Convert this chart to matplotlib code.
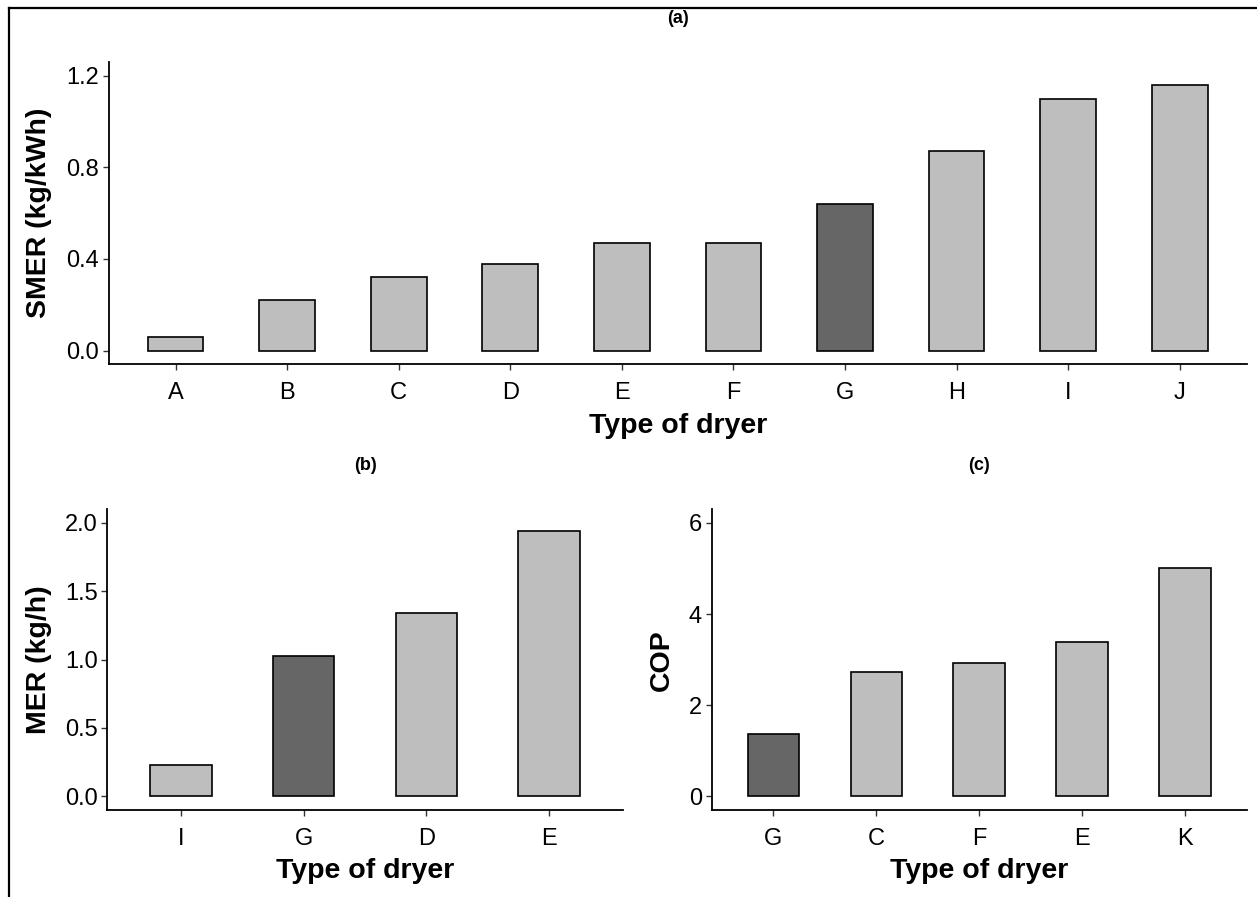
import matplotlib.pyplot as plt
from matplotlib.lines import Line2D

plt.rcParams['font.family'] = ['Liberation Sans', 'DejaVu Sans']

# данные
dryers_a = ['A', 'B', 'C', 'D', 'E', 'F', 'G', 'H', 'I', 'J']
smer = [0.06, 0.22, 0.32, 0.38, 0.47, 0.47, 0.64, 0.87, 1.10, 1.16]

dryers_b = ['I', 'G', 'D', 'E']
mer = [0.23, 1.03, 1.34, 1.94]

dryers_c = ['G', 'C', 'F', 'E', 'K']
cop = [1.36, 2.73, 2.92, 3.38, 5.02]

highlight = 'G'

W, H = 1257, 897
fig = plt.figure(figsize=(W / 100, H / 100), dpi=100)


def box(l, t, r, b):
    return [l / W, 1 - b / H, (r - l) / W, (b - t) / H]


def panel(ax, cats, vals, ylab, title, ylim, yticks, fmt, label_x):
    x = list(range(len(cats)))
    colors = ['#666666' if c == highlight else '#BEBEBE' for c in cats]
    ax.bar(x, vals, width=0.5, color=colors, edgecolor='black', linewidth=1.2)
    ax.set_xlim(-0.6, len(cats) - 0.4)
    ax.set_ylim(*ylim)
    ax.set_xticks(x)
    ax.set_xticklabels(cats)
    ax.set_yticks(yticks)
    ax.set_yticklabels([fmt.format(v) for v in yticks])
    for s in ['top', 'right']:
        ax.spines[s].set_visible(False)
    for s in ['left', 'bottom']:
        ax.spines[s].set_linewidth(1.3)
    ax.tick_params(labelsize=17, length=4, width=1, color='#333333')
    ax.tick_params(axis='x', pad=9)
    ax.tick_params(axis='y', pad=3)
    ax.set_xlabel('Type of dryer', fontsize=20.5, fontweight='bold', labelpad=6)
    ax.set_ylabel(ylab, fontsize=20.5, fontweight='bold')
    ax.yaxis.set_label_coords(label_x, 0.5)
    ax.set_title(title, fontsize=13, fontweight='bold', pad=28)


ax_a = fig.add_axes(box(108.6, 62, 1246.7, 364.3))
ax_b = fig.add_axes(box(107.4, 509.3, 622.7, 810))
ax_c = fig.add_axes(box(711.7, 509.3, 1246.7, 810))

panel(ax_a, dryers_a, smer, 'SMER (kg/kWh)', '(a)', (-0.06, 1.26),
      [0.0, 0.4, 0.8, 1.2], '{:.1f}', -0.0497)
panel(ax_b, dryers_b, mer, 'MER (kg/h)', '(b)', (-0.1, 2.1),
      [0.0, 0.5, 1.0, 1.5, 2.0], '{:.1f}', -0.1075)
panel(ax_c, dryers_c, cop, 'COP', '(c)', (-0.3, 6.3),
      [0, 2, 4, 6], '{:.0f}', -0.068)

# рамка сверху и слева
fig.add_artist(Line2D([9 / W, 1], [1 - 8 / H, 1 - 8 / H], color='black', lw=1.6))
fig.add_artist(Line2D([9 / W, 9 / W], [0, 1 - 8 / H], color='black', lw=1.6))

fig.savefig('out.png', dpi=100)
